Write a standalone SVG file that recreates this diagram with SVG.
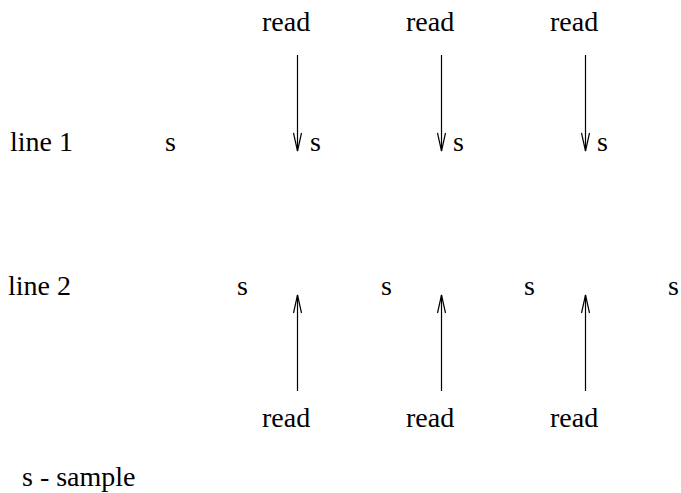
<svg xmlns="http://www.w3.org/2000/svg" width="681" height="493" viewBox="0 0 681 493">
  <style>
    text { font-family: "Liberation Serif", "Times New Roman", serif; font-size: 28px; fill: #000; }
    .arrow { stroke: #000; stroke-width: 1.2; fill: none; }
  </style>
  <defs>
    <marker id="head" viewBox="0 0 20 10" refX="19" refY="5" markerWidth="20" markerHeight="10" markerUnits="userSpaceOnUse" orient="auto">
      <path d="M1,1 L19,5 L1,9" fill="none" stroke="#000" stroke-width="1.2"/>
    </marker>
  </defs>
  <rect width="681" height="493" fill="#fff"/>

  <!-- row labels -->
  <g id="label-line1"><text x="10" y="151">line 1</text></g>
  <g id="label-line2"><text x="8" y="295">line 2</text></g>

  <!-- samples on line 1 -->
  <g id="line1-samples">
    <text x="165" y="151">s</text>
    <text x="310" y="151">s</text>
    <text x="453" y="151">s</text>
    <text x="597" y="151">s</text>
  </g>

  <!-- samples on line 2 -->
  <g id="line2-samples">
    <text x="237" y="295">s</text>
    <text x="381" y="295">s</text>
    <text x="524" y="295">s</text>
    <text x="668" y="295">s</text>
  </g>

  <!-- read labels -->
  <g id="reads-top">
    <text x="262" y="31">read</text>
    <text x="406" y="31">read</text>
    <text x="550" y="31">read</text>
  </g>
  <g id="reads-bottom">
    <text x="262" y="427">read</text>
    <text x="406" y="427">read</text>
    <text x="550" y="427">read</text>
  </g>

  <!-- read arrows -->
  <g id="connectors">
    <line class="arrow" x1="297.5" y1="55" x2="297.5" y2="151" marker-end="url(#head)"/>
    <line class="arrow" x1="441.5" y1="55" x2="441.5" y2="151" marker-end="url(#head)"/>
    <line class="arrow" x1="585.5" y1="55" x2="585.5" y2="151" marker-end="url(#head)"/>
    <line class="arrow" x1="297.5" y1="391" x2="297.5" y2="295" marker-end="url(#head)"/>
    <line class="arrow" x1="441.5" y1="391" x2="441.5" y2="295" marker-end="url(#head)"/>
    <line class="arrow" x1="585.5" y1="391" x2="585.5" y2="295" marker-end="url(#head)"/>
  </g>

  <!-- legend -->
  <g id="legend"><text x="22" y="486">s - sample</text></g>
</svg>
